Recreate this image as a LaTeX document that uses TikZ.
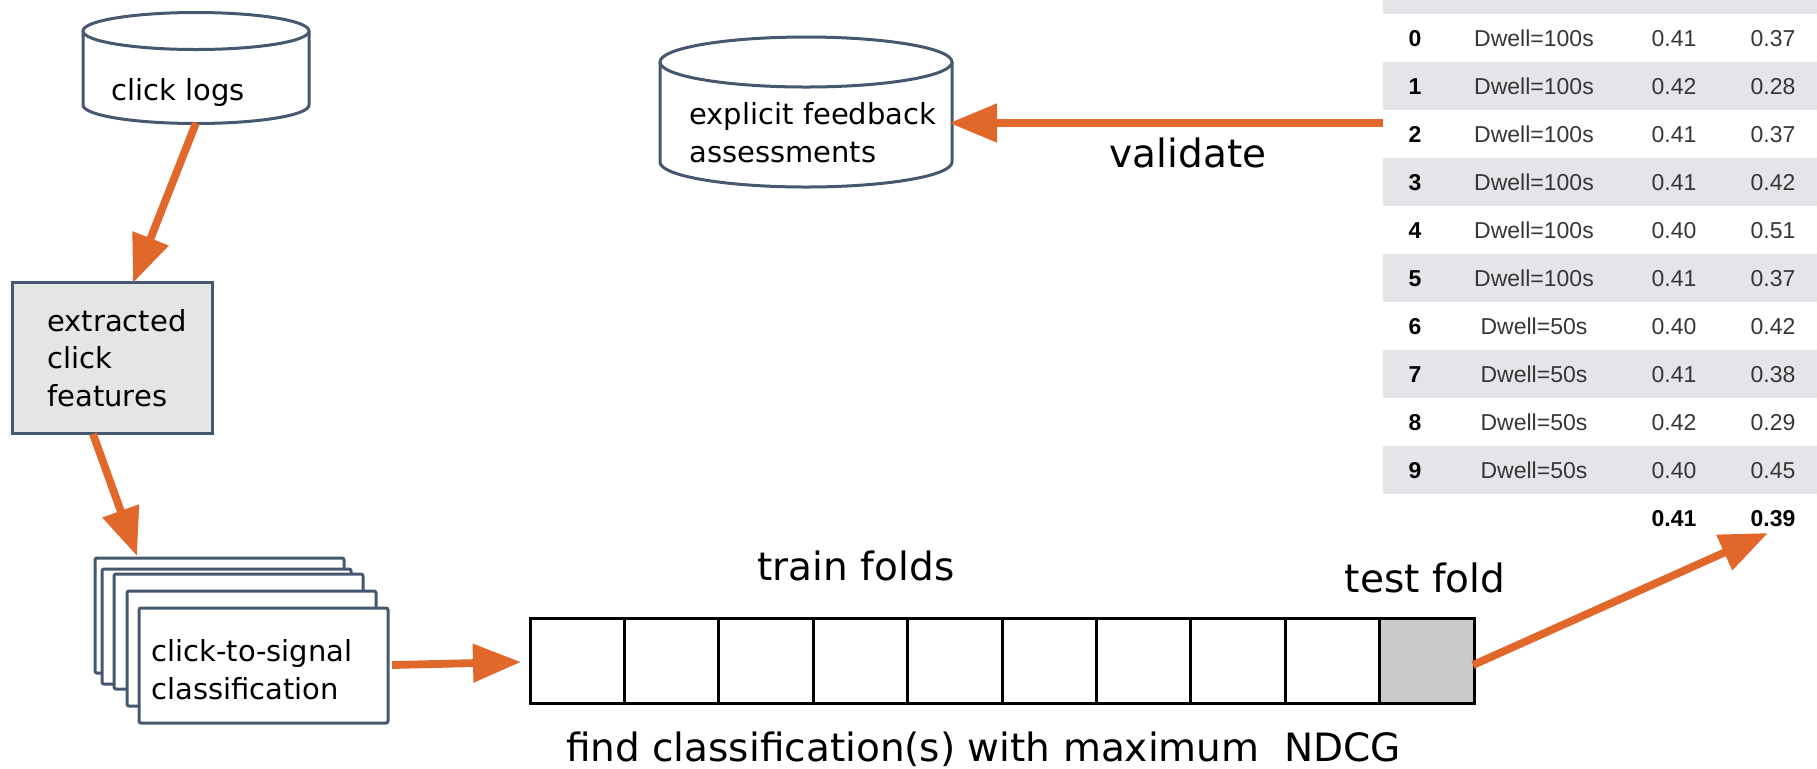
\documentclass[tikz,border=0pt]{standalone}
\usepackage{fontspec}
\setmainfont{DejaVu Sans}
\newfontfamily\tabfont{Liberation Sans}
\usetikzlibrary{arrows.meta}
\definecolor{slate}{HTML}{465770}
\definecolor{flow}{HTML}{E2672B}
\definecolor{band}{HTML}{E4E5E8}
\definecolor{featfill}{HTML}{E5E5E5}
\definecolor{testfill}{HTML}{C9C9C9}
\definecolor{cellink}{HTML}{363636}
\begin{document}
\begin{tikzpicture}[x=0.5pt,y=-0.5pt,
  outline/.style={draw=slate,line width=1.5pt,fill=white},
  area/.style={anchor=north west,inner sep=0pt,outer sep=0pt},
  sheet/.style={outline,area,rounded corners=1pt,minimum width=124.5pt,minimum height=57.5pt},
  foldcell/.style={area,draw=black,line width=1.5pt,fill=white,minimum width=47.2pt,minimum height=42.5pt},
  flowarrow/.style={draw=flow,line width=3.9pt,-{Triangle[length=24pt,width=18.5pt]}},
  boxtext/.style={anchor=base west,inner sep=0pt,font=\fontsize{14.5}{17}\selectfont},
  bigtext/.style={anchor=base,inner sep=0pt,font=\fontsize{19.5}{23}\selectfont},
  tabcell/.style={anchor=base,inner sep=0pt,text=cellink,font=\tabfont\fontsize{11.5}{14}\selectfont},
  tabbold/.style={tabcell,text=black,font=\tabfont\bfseries\fontsize{11.5}{14}\selectfont}
]
\useasboundingbox (0,0) rectangle (1817,768);

% ---- results table (striped rows) ----
\fill[band] (1383,0) rectangle (1817,14);
\foreach \k in {1,3,5,7,9}
  \fill[band] (1383,{14+48*\k}) rectangle (1817,{62+48*\k});
\foreach \k/\dw/\a/\b in {0/100/0.41/0.37,1/100/0.42/0.28,2/100/0.41/0.37,
    3/100/0.41/0.42,4/100/0.40/0.51,5/100/0.41/0.37,6/50/0.40/0.42,
    7/50/0.41/0.38,8/50/0.42/0.29,9/50/0.40/0.45}{
  \node[tabbold] (idx\k) at (1415,{46+48*\k}) {\k};
  \node[tabcell] (dwell\k) at (1534,{46+48*\k}) {Dwell=\dw s};
  \node[tabcell] (ndcga\k) at (1674,{46+48*\k}) {\a};
  \node[tabcell] (ndcgb\k) at (1773,{46+48*\k}) {\b};
}
\node[tabbold] (suma) at (1674,526) {0.41};
\node[tabbold] (sumb) at (1773,526) {0.39};
\coordinate (tableout) at (1383,123);
\coordinate (totalin) at (1768,533);

% ---- click logs store ----
\node[area,minimum width=113pt,minimum height=55.5pt] (logs) at (83,12) {};
\draw[outline] (83,31) -- (83,105)
  arc[start angle=180,end angle=360,x radius=56.5pt,y radius=9.25pt] -- (309,31);
\draw[outline] (196,31) ellipse[x radius=56.5pt,y radius=9.25pt];
\node[boxtext] (logstext) at (111,100) {click logs};

% ---- explicit feedback store ----
\node[area,minimum width=146pt,minimum height=75pt] (fb) at (660,37) {};
\draw[outline] (660,62) -- (660,162)
  arc[start angle=180,end angle=360,x radius=73pt,y radius=12.5pt] -- (952,62);
\draw[outline] (806,62) ellipse[x radius=73pt,y radius=12.5pt];
\node[boxtext] (fbtexta) at (689,124) {explicit feedback};
\node[boxtext] (fbtextb) at (689,162) {assessments};
\coordinate (fbin) at (949,123);

% ---- extracted features ----
\node[outline,area,fill=featfill,minimum width=100pt,minimum height=75.5pt] (feat) at (12,282) {};
\node[boxtext] (feata) at (47,331) {extracted};
\node[boxtext] (featb) at (47,368) {click};
\node[boxtext] (featc) at (47,406) {features};
\coordinate (featin) at (133,283);
\coordinate (featout) at (93,434);

% ---- stack of classifications ----
\foreach \x/\y [count=\n] in {95/558,102/569,114/574,127/591,139/608}
  \node[sheet] (sheet\n) at (\x,\y) {};
\node[boxtext] (sheeta) at (151,661) {click-to-signal};
\node[boxtext] (sheetb) at (151,699) {classification};
\coordinate (sheetin) at (137,556);
\coordinate (sheetout) at (392,665);

% ---- cross-validation folds ----
\foreach \i in {0,...,8}
  \node[foldcell] (fold\i) at ({530+94.4*\i},618) {};
\node[foldcell,fill=testfill] (fold9) at ({530+94.4*9},618) {};
\coordinate (foldin) at (521,662);
\coordinate (testout) at (1473,665);
\node[bigtext] (trainlbl) at (856,580) {train folds};
\node[bigtext] (testlbl) at (1425,592) {test fold};
\node[bigtext] (findlbl) at (983.5,761) {find classification(s) with maximum\ \ NDCG};
\node[bigtext] (vallbl) at (1188,167) {validate};

% ---- flow arrows ----
\draw[flowarrow] (logs.south) -- (featin);
\draw[flowarrow] (featout) -- (sheetin);
\draw[flowarrow] (sheetout) -- (foldin);
\draw[flowarrow] (testout) -- (totalin);
\draw[flowarrow] (tableout) -- (fbin);
\end{tikzpicture}
\end{document}
